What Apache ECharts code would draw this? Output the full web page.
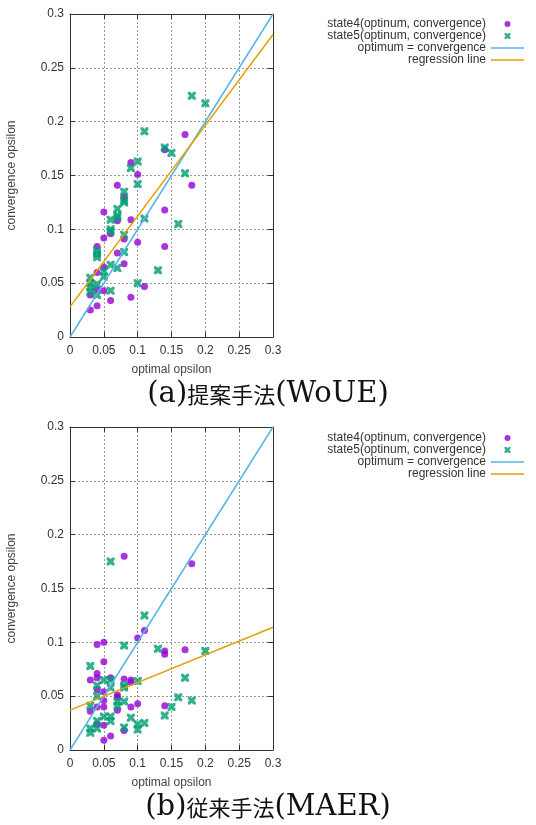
<!DOCTYPE html>
<html>
<head>
<meta charset="utf-8">
<script src="https://cdn.jsdelivr.net/npm/echarts@6/dist/echarts.min.js"></script>
<style>
html,body{margin:0;padding:0;background:#fff;}
#c{width:536px;height:825px;}
</style>
</head>
<body>
<div id="c"></div>
<script>
// ---- data ----
var ticks = [0, 0.05, 0.1, 0.15, 0.2, 0.25, 0.3];
var lineX = [0, 0.3];
var optimumY = [0, 0.3];

// (a) proposed method
var aState4 = [
  [0.17,0.188],[0.14,0.174],[0.09,0.162],[0.1,0.151],[0.18,0.141],[0.07,0.141],[0.08,0.130],
  [0.05,0.116],[0.07,0.108],[0.09,0.109],[0.14,0.118],[0.06,0.096],[0.05,0.092],[0.08,0.091],
  [0.1,0.088],[0.14,0.084],[0.04,0.084],[0.07,0.078],[0.08,0.068],[0.05,0.065],[0.04,0.060],
  [0.03,0.039],[0.04,0.044],[0.11,0.047],[0.05,0.043],[0.06,0.034],[0.09,0.037],[0.04,0.029],[0.03,0.025]
];
var aState5 = [
  [0.18,0.224],[0.2,0.217],[0.11,0.191],[0.14,0.176],[0.15,0.171],[0.1,0.163],[0.09,0.157],
  [0.17,0.152],[0.1,0.142],[0.08,0.135],[0.08,0.127],[0.08,0.125],[0.07,0.119],[0.07,0.113],[0.07,0.111],
  [0.06,0.109],[0.11,0.110],[0.16,0.105],[0.06,0.100],[0.06,0.098],[0.08,0.095],[0.04,0.080],[0.04,0.077],[0.04,0.074],
  [0.08,0.079],[0.06,0.067],[0.07,0.064],[0.05,0.061],[0.05,0.056],[0.03,0.055],[0.13,0.062],
  [0.03,0.050],[0.03,0.046],[0.03,0.042],[0.04,0.049],[0.04,0.039],[0.1,0.050],[0.06,0.043]
];
var aRegressionY = [0.028, 0.281];

// (b) conventional method
var bState4 = [
  [0.08,0.180],[0.18,0.173],[0.11,0.111],[0.1,0.104],[0.05,0.100],[0.04,0.098],[0.14,0.092],[0.14,0.089],[0.17,0.093],
  [0.05,0.082],[0.04,0.071],[0.03,0.065],[0.04,0.067],[0.06,0.067],[0.08,0.066],[0.09,0.065],[0.09,0.063],
  [0.04,0.056],[0.05,0.054],[0.07,0.051],[0.07,0.049],[0.05,0.046],[0.05,0.040],[0.04,0.040],[0.03,0.036],
  [0.07,0.037],[0.09,0.040],[0.1,0.043],[0.14,0.041],[0.04,0.024],[0.05,0.023],[0.08,0.018],[0.06,0.013],[0.05,0.009]
];
var bState5 = [
  [0.06,0.175],[0.11,0.125],[0.08,0.097],[0.13,0.094],[0.2,0.092],[0.03,0.078],[0.17,0.067],
  [0.05,0.065],[0.06,0.065],[0.1,0.064],[0.04,0.060],[0.06,0.058],[0.08,0.060],[0.08,0.058],
  [0.04,0.050],[0.16,0.049],[0.18,0.046],[0.07,0.045],[0.08,0.045],[0.07,0.041],[0.03,0.041],[0.15,0.040],
  [0.14,0.032],[0.05,0.031],[0.06,0.031],[0.09,0.030],[0.06,0.027],[0.04,0.027],[0.11,0.025],[0.1,0.024],
  [0.08,0.021],[0.1,0.019],[0.04,0.020],[0.03,0.020],[0.03,0.016]
];
var bRegressionY = [0.037, 0.114];

var names = ['state4(optinum, convergence)', 'state5(optinum, convergence)', 'optimum = convergence', 'regression line'];
var captionA = ['(a)', '提案手法', '(WoUE)'];
var captionB = ['(b)', '従来手法', '(MAER)'];
var xName = 'optimal opsilon';
var yName = 'convergence opsilon';

// ---- styling ----
var PURPLE = '#9400D3', GREEN = '#009E73', BLUE = '#56B4E9', ORANGE = '#E69F00';
var XMARK = 'path://M0,0 L3,0 L5,2 L7,0 L10,0 L10,3 L8,5 L10,7 L10,10 L7,10 L5,8 L3,10 L0,10 L0,7 L2,5 L0,3 Z';
var LINEICON = 'path://M0,0 L0,0 M33,6 L33,6 M0,2.25 L33,2.25 L33,3.75 L0,3.75 Z';
var FONT = '"Liberation Sans", Arial, sans-serif';
var AX = '#333';

function pairs(xs, ys) { return xs.map(function (x, i) { return [x, ys[i]]; }); }

var grids = [
  { left: 70, top: 14, width: 203, height: 323 },
  { left: 70, top: 427, width: 203, height: 323 }
];

var xAxes = [], yAxes = [];
[0, 1].forEach(function (g) {
  var base = {
    gridIndex: g, type: 'value', min: 0, max: 0.3, interval: 0.05,
    axisLine: { show: true, onZero: false, lineStyle: { color: AX, width: 1 } },
    axisTick: { show: true, inside: true, length: 5, lineStyle: { color: AX } }
  };
  xAxes.push(Object.assign({}, base, {
    position: 'bottom', name: xName, nameLocation: 'middle', nameGap: 27,
    nameTextStyle: { fontFamily: FONT, fontSize: 12, color: '#444' },
    axisLabel: { margin: 8, fontFamily: FONT, fontSize: 12, color: '#333' },
    splitLine: { show: true, lineStyle: { color: '#999', type: [2, 2], width: 1 } }
  }));
  xAxes.push(Object.assign({}, base, {
    position: 'top', axisLabel: { show: false }, splitLine: { show: false }
  }));
  yAxes.push(Object.assign({}, base, {
    position: 'left', name: yName, nameLocation: 'middle', nameGap: 52, nameRotate: 90,
    nameTextStyle: { fontFamily: FONT, fontSize: 12, color: '#444' },
    axisLabel: { margin: 6, fontFamily: FONT, fontSize: 12, color: '#333' },
    splitLine: { show: true, lineStyle: { color: '#999', type: [2, 2], width: 1 } }
  }));
  yAxes.push(Object.assign({}, base, {
    position: 'right', axisLabel: { show: false }, splitLine: { show: false }
  }));
});

function seriesFor(g, s4, s5, regY) {
  return [
    { name: names[0], type: 'scatter', xAxisIndex: 2 * g, yAxisIndex: 2 * g, data: s4,
      symbol: 'circle', symbolSize: 7, itemStyle: { color: PURPLE }, z: 3 },
    { name: names[1], type: 'scatter', xAxisIndex: 2 * g, yAxisIndex: 2 * g, data: s5,
      symbol: XMARK, symbolSize: 8, symbolKeepAspect: true, itemStyle: { color: GREEN }, z: 3 },
    { name: names[2], type: 'line', xAxisIndex: 2 * g, yAxisIndex: 2 * g, data: pairs(lineX, optimumY),
      symbol: 'none', showSymbol: false, lineStyle: { color: BLUE, width: 1.5 }, itemStyle: { color: BLUE }, z: 4 },
    { name: names[3], type: 'line', xAxisIndex: 2 * g, yAxisIndex: 2 * g, data: pairs(lineX, regY),
      symbol: 'none', showSymbol: false, lineStyle: { color: ORANGE, width: 1.5 }, itemStyle: { color: ORANGE }, z: 4 }
  ];
}

function legendFor(top) {
  return {
    top: top, right: 7, orient: 'vertical', align: 'right',
    itemWidth: 33, itemHeight: 6, itemGap: 0,
    selectedMode: false,
    textStyle: { fontFamily: FONT, fontSize: 12, color: '#333', lineHeight: 12 },
    data: [
      { name: names[0], icon: 'circle' },
      { name: names[1], icon: XMARK },
      { name: names[2], icon: LINEICON, itemStyle: { color: BLUE, borderWidth: 0 } },
      { name: names[3], icon: LINEICON, itemStyle: { color: ORANGE, borderWidth: 0 } }
    ]
  };
}

function caption(parts, top) {
  return {
    text: '{l|' + parts[0] + '}{c|' + parts[1] + '}{l|' + parts[2] + '}',
    left: 'center', top: top,
    textStyle: {
      fontWeight: 'normal',
      rich: {
        l: { fontFamily: '"DejaVu Serif", "Liberation Serif", serif', fontSize: 29, fontWeight: 'normal', color: '#111' },
        c: { fontFamily: '"Noto Sans CJK JP", sans-serif', fontSize: 22, fontWeight: 'normal', color: '#111' }
      }
    }
  };
}

var chart = echarts.init(document.getElementById('c'), null, { renderer: 'canvas' });
chart.setOption({
  animation: false,
  backgroundColor: '#fff',
  title: [caption(captionA, 375), caption(captionB, 788)],
  legend: [legendFor(13), legendFor(427)],
  grid: grids,
  xAxis: xAxes,
  yAxis: yAxes,
  series: seriesFor(0, aState4, aState5, aRegressionY).concat(seriesFor(1, bState4, bState5, bRegressionY))
});
</script>
</body>
</html>
